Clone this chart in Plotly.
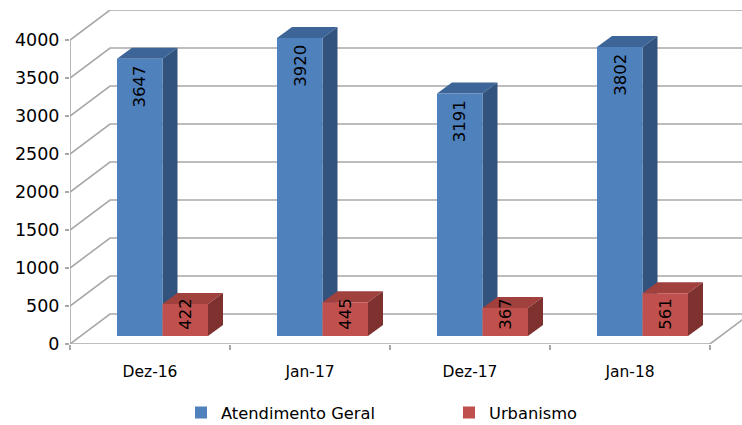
import plotly.graph_objects as go

# chart data
categories = ["Dez-16", "Jan-17", "Dez-17", "Jan-18"]
atendimento = [3647, 3920, 3191, 3802]
urbanismo = [422, 445, 367, 561]
y_ticks = [0, 500, 1000, 1500, 2000, 2500, 3000, 3500, 4000]

# pseudo-3D geometry (pixel sizes converted to axis units)
PX_Y = 4395 / 334.0          # value units per pixel
PX_X = 1 / 160.0             # category units per pixel
WALL_DX, WALL_DY = 40 * PX_X, 30 * PX_Y
BAR_DX, BAR_DY = 15 * PX_X, 11 * PX_Y
BASE = 8 * PX_Y
BAR_W = 45.5 * PX_X
SHIFT = 12.5 * PX_X
X_MAX = -0.5 + 672 * PX_X

GRID = "#a8a8a8"
FONT = "DejaVu Sans"

series = [
    dict(name="Atendimento Geral", vals=atendimento, offset=SHIFT - BAR_W,
         front="#4F81BD", top="#3D6597", side="#32537D"),
    dict(name="Urbanismo", vals=urbanismo, offset=SHIFT,
         front="#C0504D", top="#A0413E", side="#7E312F"),
]

fig = go.Figure()
shapes = []

# back wall / floor gridlines
for v in y_ticks:
    shapes.append(dict(type="path", layer="below",
                       path=f"M -0.5 {v} L {-0.5 + WALL_DX} {v + WALL_DY} L {X_MAX + 0.1} {v + WALL_DY}",
                       line=dict(color=GRID, width=1.6)))
# front floor edge, right floor edge, left axis
shapes.append(dict(type="path", layer="below",
                   path=f"M -0.5 0 L 3.5 0 L {3.5 + WALL_DX} {WALL_DY}",
                   line=dict(color=GRID, width=1.6)))
shapes.append(dict(type="line", layer="below", x0=-0.5, x1=-0.5, y0=0, y1=4000,
                   line=dict(color=GRID, width=1.6)))

# top and side faces of the bars
for i in range(len(categories)):
    for s in series:
        v = s["vals"][i]
        xl = i + s["offset"]
        xr = xl + BAR_W
        top = BASE + v
        shapes.append(dict(type="path", layer="below", fillcolor=s["top"], line=dict(width=0),
                           path=f"M {xl} {top} L {xr} {top} L {xr + BAR_DX} {top + BAR_DY} L {xl + BAR_DX} {top + BAR_DY} Z"))
        shapes.append(dict(type="path", layer="below", fillcolor=s["side"], line=dict(width=0),
                           path=f"M {xr} {BASE} L {xr} {top} L {xr + BAR_DX} {top + BAR_DY} L {xr + BAR_DX} {BASE + BAR_DY} Z"))

# front faces
for s in series:
    fig.add_trace(go.Bar(
        x=categories, y=s["vals"], base=[BASE] * len(categories),
        offset=s["offset"], width=BAR_W, name=s["name"],
        marker=dict(color=s["front"], line=dict(width=0)),
    ))

# value labels
annotations = []
for i in range(len(categories)):
    for k, s in enumerate(series):
        v = s["vals"][i]
        xc = i + s["offset"] + BAR_W / 2
        yc = BASE + v - 28 * PX_Y if k == 0 else BASE + 22.5 * PX_Y
        annotations.append(dict(x=xc, y=yc, text=str(v), textangle=-90, showarrow=False,
                                xanchor="center", yanchor="middle",
                                font=dict(family=FONT, size=16.5, color="#000000")))

fig.update_layout(
    width=742, height=425,
    margin=dict(l=70, r=0, t=10, b=81),
    paper_bgcolor="white", plot_bgcolor="white",
    barmode="overlay",
    font=dict(family=FONT, size=15.5, color="#000000"),
    shapes=shapes, annotations=annotations,
    xaxis=dict(type="category", range=[-0.5, X_MAX], tickson="boundaries",
               ticks="outside", ticklen=5, tickcolor=GRID, tickwidth=1.5,
               ticklabelstandoff=16,
               showgrid=False, showline=False, zeroline=False),
    yaxis=dict(range=[0, 4395], tickvals=y_ticks, ticks="outside", ticklen=4,
               tickcolor=GRID, tickwidth=1.5, showgrid=False, showline=False,
               zeroline=False, ticklabelstandoff=2, tickfont=dict(size=17.5)),
    legend=dict(orientation="h", xref="container", yref="container",
                x=181 / 742, y=(425 - 413) / 425, xanchor="left", yanchor="middle",
                entrywidth=223, font=dict(size=16.3)),
    showlegend=True,
)

# drop the default page margin so the figure sits at the window's corner
fig.write_html("out.html", config={"displayModeBar": False},
               post_script="document.body.style.margin='0';")
